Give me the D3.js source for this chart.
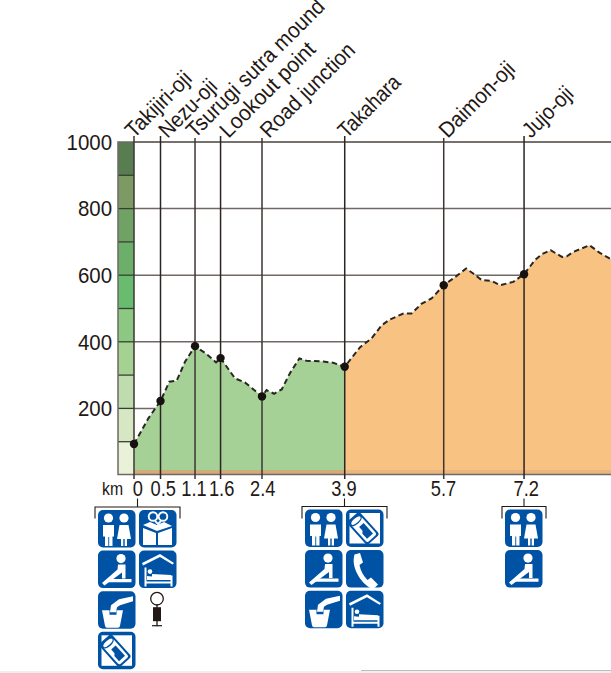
<!DOCTYPE html>
<html><head><meta charset="utf-8">
<script src="https://cdn.jsdelivr.net/npm/d3@7"></script>
<style>html,body{margin:0;padding:0;background:#fff}svg{display:block}text{font-family:"Liberation Sans",Arial,sans-serif;fill:#231815}</style>
</head><body><svg id="c" width="611" height="673"></svg>
<script>
const elevTicks=[200,400,600,800,1000];
const bandEdges=[0,100,200,300,400,500,600,700,800,900,1000];
const bandColors=["#e9f2d9","#d7e7c4","#bfdcae","#a5d193","#8cc784","#69bb70","#6caf6a","#70a265","#7d9a64","#577d50"];
const stopNames=["Takijiri-oji","Nezu-oji","Tsurugi sutra mound","Lookout point","Road junction","Takahara","Daimon-oji","Jujo-oji"];
const stopKm=[0,0.49,1.128,1.6,2.366,3.895,5.725,7.21];
const stopElev=[93,222,387,351,236,325,570,603];
const kmLabels=["0","0.5","1.1","1.6","2.4","3.9","5.7","7.2"];
const kmLabelPos=[0.07,0.54,1.11,1.62,2.38,3.88,5.72,7.25];
const profileKm=[0,0.265,0.49,0.653,0.789,0.943,1.128,1.343,1.516,1.6,1.867,2.05,2.366,2.45,2.59,2.73,2.88,3.056,3.19,3.5,3.68,3.895,4.18,4.39,4.58,4.73,4.98,5.13,5.32,5.5,5.725,5.9,6.14,6.27,6.43,6.61,6.77,7.01,7.21,7.41,7.54,7.7,7.91,8,8.12,8.42,8.61,8.82];
const profileElev=[93,170,222,280,283,340,387,363,338,351,290,278,236,255,244,257,305,350,343,341,337,325,384,410,450,467,485,485,515,530,570,590,620,605,585,583,570,580,603,645,663,675,655,657,670,690,667,648];
const facilityGroups=[
 {km:0,names:["toilet","gift","rest","lodging","water","post","vending"],cols:2},
 {km:3.895,names:["toilet","vending","rest","phone","water","lodging"],cols:2},
 {km:7.21,names:["toilet","rest"],cols:1}];

const svg=d3.select("#c");
const W=611;
const x=d3.scaleLinear().domain([0,9]).range([134,134+9*54.1]);
const y=d3.scaleLinear().domain([0,1000]).range([475,142]);
const ink="#231815",grid="#6f6865",blue="#0053a4";
const pts=profileKm.map((k,i)=>[k,profileElev[i]]);
const area=d3.area().x(d=>x(d[0])).y0(y(0)).y1(d=>y(d[1]));
const line=d3.line().x(d=>x(d[0])).y(d=>y(d[1]));
const split=3.895;
const defs=svg.append("defs");
defs.append("clipPath").attr("id","g").append("rect").attr("x",x(0)).attr("y",0).attr("width",x(split)-x(0)).attr("height",673);
defs.append("clipPath").attr("id","o").append("rect").attr("x",x(split)).attr("y",0).attr("width",W-x(split)).attr("height",673);

svg.selectAll(".band").data(bandColors).join("rect").attr("class","band")
 .attr("x",118).attr("width",16)
 .attr("y",(d,i)=>y(bandEdges[i+1])).attr("height",(d,i)=>y(bandEdges[i])-y(bandEdges[i+1]))
 .attr("fill",d=>d);
svg.selectAll(".bandl").data(bandEdges.slice(1,-1)).join("line").attr("class","bandl")
 .attr("x1",118).attr("x2",134).attr("y1",d=>y(d)).attr("y2",d=>y(d)).attr("stroke","#34402f").attr("stroke-width",1.3);

svg.selectAll(".gl").data(elevTicks).join("line").attr("class","gl")
 .attr("x1",134).attr("x2",W).attr("y1",d=>y(d)).attr("y2",d=>y(d)).attr("stroke",grid).attr("stroke-width",1.5);

svg.append("path").attr("d",area(pts)).attr("fill","#a6d196").attr("clip-path","url(#g)");
svg.append("path").attr("d",area(pts)).attr("fill","#f8c283").attr("clip-path","url(#o)");
svg.append("rect").attr("x",x(0)).attr("width",x(split)-x(0)).attr("y",470).attr("height",5).attr("fill","#d3ab7b");
svg.append("rect").attr("x",x(split)).attr("width",W-x(split)).attr("y",470).attr("height",5).attr("fill","#e9b67f");

svg.append("path").attr("d",`M${W} 142H118V474.5H${W}`).attr("fill","none").attr("stroke",grid).attr("stroke-width",1.5);

svg.selectAll(".st").data(stopKm).join("line").attr("class","st")
 .attr("x1",d=>x(d)).attr("x2",d=>x(d)).attr("y1",(d,i)=>i===2||i===4||i===6?138:136).attr("y2",479)
 .attr("stroke",(d,i)=>i%2?"#2b2523":"#3d3633").attr("stroke-width",1.5);

svg.append("path").attr("d",line(pts)).attr("fill","none").attr("stroke","#2a2624").attr("stroke-width",2).attr("stroke-dasharray","5.5 3.4");
svg.selectAll(".dot").data(stopKm).join("circle").attr("class","dot")
 .attr("cx",d=>x(d)).attr("cy",(d,i)=>y(stopElev[i])).attr("r",4.2).attr("fill","#17110f");

const narrow=(sel,k)=>sel.each(function(d,i){const f=typeof k==="function"?k(d,i):k;d3.select(this).attr("textLength",this.getComputedTextLength()*f).attr("lengthAdjust","spacingAndGlyphs");});

svg.selectAll(".yl").data(elevTicks).join("text").attr("class","yl")
 .attr("x",112).attr("y",d=>y(d)+7.7).attr("text-anchor","end").attr("font-size",21.5).text(d=>d).call(narrow,0.95);

svg.append("text").attr("x",102).attr("y",495).attr("font-size",19).attr("textLength",21).attr("lengthAdjust","spacingAndGlyphs").text("km");
svg.selectAll(".kl").data(kmLabels).join("text").attr("class","kl")
 .attr("x",(d,i)=>x(kmLabelPos[i])).attr("y",495.5).attr("text-anchor","middle").attr("font-size",22).text(d=>d).call(narrow,0.83);

const nameFit=[.925,.895,.93,.945,.92,.865,.925,.89];
const nameShift=[0,7,0,8,7,2,4,7];
svg.selectAll(".nm").data(stopNames).join("text").attr("class","nm")
 .attr("transform",(d,i)=>`translate(${x(stopKm[i])+nameShift[i]},139) rotate(-45)`)
 .attr("font-size",22).text(d=>d).call(narrow,(d,i)=>nameFit[i]);

const glyphs={
 toilet(g){const w="#fff";
  g.append("circle").attr("cx",10.5).attr("cy",8).attr("r",4.6).attr("fill",w);
  g.append("path").attr("d","M5 15h11v11.5h-1.5V36h-3.3V27h-.9V36H7V26.5H5z").attr("fill",w);
  g.append("circle").attr("cx",26).attr("cy",8).attr("r",4.6).attr("fill",w);
  g.append("path").attr("d","M21.5 15h9l2.5 14H29v7h-2.3v-7h-1.4v7H23v-7H19z").attr("fill",w);},
 gift(g){const w="#fff";
  g.append("path").attr("d","M4 15l7-3 7 3 7-3 8 4-15 5zM4 18l13 5v12H4zM19 23l14-5v17H19z").attr("fill",w);
  g.append("circle").attr("cx",14).attr("cy",6.5).attr("r",4.3).attr("fill","none").attr("stroke",w).attr("stroke-width",1.9);
  g.append("circle").attr("cx",24).attr("cy",6.5).attr("r",4.3).attr("fill","none").attr("stroke",w).attr("stroke-width",1.9);
  g.append("path").attr("d","M16 11l3 3 3-3").attr("fill","none").attr("stroke",w).attr("stroke-width",1.8);},
 rest(g){const w="#fff";
  g.append("circle").attr("cx",23).attr("cy",8).attr("r",4.6).attr("fill",w);
  g.append("path").attr("d","M20 14h7.5v14H24V22L6.5 35 4 32.5 19.5 19z").attr("fill",w);
  g.append("path").attr("d","M13.5 28.5h20v3.2H9.5z").attr("fill",w);},
 lodging(g){const w="#fff";
  g.append("path").attr("d","M3 12.5L21 3.5 35 12.5 33.5 14 21 6.5 4 15z").attr("fill",w);
  g.append("path").attr("d","M5.5 17h2v19h-2zM31.5 25h2v11h-2zM7 31h25v2H7z").attr("fill",w);
  g.append("path").attr("d","M13 23.5l19 1v5H8v-4l5 .5z").attr("fill",w);
  g.append("circle").attr("cx",11).attr("cy",21).attr("r",2.3).attr("fill",w);},
 water(g){const w="#fff";
  g.append("path").attr("d","M21 8l14-3v5l-13 4-3 2-1 5h-6l1-7z").attr("fill",w);
  g.append("path").attr("d","M4 19h7.5v4.5h7V19H25l-3 15.5q-.3 2-2 2H9q-1.7 0-2-2z").attr("fill",w);},
 vending(g){const w="#fff";
  g.append("rect").attr("x",3.5).attr("y",3.5).attr("width",30.5).attr("height",30.5).attr("fill",w);
  g.append("g").attr("transform","translate(18 20) rotate(-42)").call(c=>{
   c.append("rect").attr("x",-8.5).attr("y",-17).attr("width",17).attr("height",31).attr("rx",3).attr("fill",blue);
   c.append("rect").attr("x",-6.5).attr("y",-13).attr("width",13).attr("height",25).attr("rx",2).attr("fill",w);
   c.append("ellipse").attr("cx",0).attr("cy",-12).attr("rx",6.5).attr("ry",3).attr("fill",w).attr("stroke",blue).attr("stroke-width",1.4);
   c.append("path").attr("d","M-2 -5H4V9H-4V2L-2 0z").attr("fill",blue);});},
 phone(g){const w="#fff";
  g.append("path").attr("d","M8.5 4.5L14 3l3 9.5-3.5 2.5c1 6 4 11 8 15l3.5-2.5 7 7-3 3c-2 1.5-4 1-6.5-.5C13 30 5 16 8.5 4.5z").attr("fill",w);}
};
facilityGroups.forEach(gr=>{
 const left=gr.cols===2?(gr.km===0?98:305):505;
 const top=gr.km===0?510:509.5;
 const step=gr.cols===2?41:0;
 const right=left+37+step;
 const stem=(left-3+right+4)/2;
 const by=gr.km===0?507:506.5;
 svg.append("path").attr("fill","none").attr("stroke",ink).attr("stroke-width",1.1)
  .attr("d",`M${left-3} 518.5V${by}H${right+4}V518.5M${stem} ${by}V498.5`);
 gr.names.forEach((n,i)=>{
  const g=svg.append("g").attr("transform",`translate(${left+(i%gr.cols)*step},${top+Math.floor(i/gr.cols)*40.6})`);
  if(n==="post"){
   g.append("circle").attr("cx",18).attr("cy",7.5).attr("r",6.3).attr("fill","#fff").attr("stroke",ink).attr("stroke-width",1.3);
   g.append("line").attr("x1",18).attr("x2",18).attr("y1",13).attr("y2",35).attr("stroke",ink).attr("stroke-width",1.3);
   g.append("rect").attr("x",14).attr("y",16).attr("width",8).attr("height",14).attr("fill",ink);
   g.append("line").attr("x1",13).attr("x2",23).attr("y1",34.5).attr("y2",34.5).attr("stroke",ink).attr("stroke-width",1.2);
   return;
  }
  g.append("rect").attr("width",37.5).attr("height",37.5).attr("rx",5).attr("fill",blue);
  glyphs[n](g);
 });
});
svg.append("rect").attr("x",0).attr("y",671).attr("width",W).attr("height",2).attr("fill","#efefef");
svg.append("rect").attr("x",361).attr("y",670).attr("width",W-361).attr("height",1).attr("fill","#bdbdbd");
</script></body></html>
